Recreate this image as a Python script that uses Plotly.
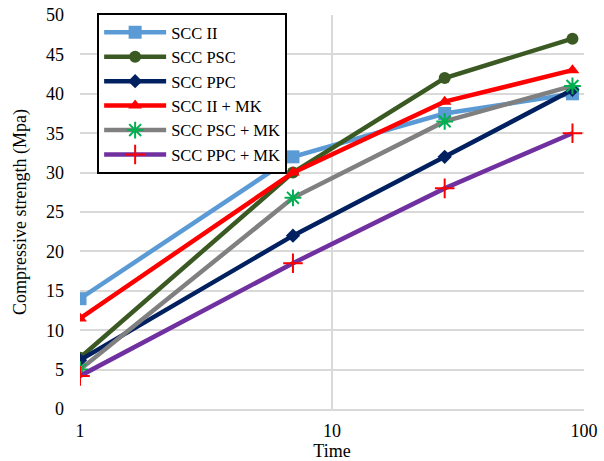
import plotly.graph_objects as go

time = [1, 7, 28, 90]
names = ["SCC II", "SCC PSC", "SCC PPC", "SCC II + MK", "SCC PSC + MK", "SCC PPC + MK"]
scc_ii = [14, 32, 37.5, 40]
scc_psc = [6.5, 30, 42, 47]
scc_ppc = [6.2, 22, 32, 40.5]
scc_ii_mk = [11.5, 30, 39, 43]
scc_psc_mk = [5, 26.8, 36.5, 41]
scc_ppc_mk = [4.2, 18.5, 28, 35]

series = [scc_ii, scc_psc, scc_ppc, scc_ii_mk, scc_psc_mk, scc_ppc_mk]
line_colors = ["#5B9BD5", "#3B5A23", "#002060", "#FF0000", "#808080", "#7030A0"]
marker_colors = ["#5B9BD5", "#3B5A23", "#002060", "#FF0000", "#00B050", "#FF0000"]
symbols = ["square", "circle", "diamond", "triangle-up", "asterisk-open", "cross-thin-open"]
sizes = [13, 12, 11, 12, 14, 14]

fig = go.Figure()
for n, s, lc, mc, sym, sz in zip(names, series, line_colors, marker_colors, symbols, sizes):
    fig.add_trace(go.Scatter(
        x=time, y=s, name=n, mode="lines+markers",
        line=dict(color=lc, width=4.5),
        marker=dict(symbol=sym, color=mc, size=sz,
                    line=dict(color=mc, width=2 if "open" in sym else 0)),
    ))

font = "Liberation Serif, Times New Roman, serif"
fig.update_layout(
    width=604, height=461,
    margin=dict(l=80, r=20, t=15, b=52, autoexpand=False),
    paper_bgcolor="white", plot_bgcolor="white",
    font=dict(family=font, size=18, color="black"),
    legend=dict(x=0.034, y=1.005, xanchor="left", yanchor="top",
                bordercolor="black", borderwidth=2, bgcolor="white",
                font=dict(size=16.5, family=font, color="black"), tracegroupgap=0,
                itemwidth=62),
    xaxis=dict(type="log", range=[0, 2], tickvals=[1, 10, 100],
               ticktext=["1", "10", "100"], automargin=False,
               showgrid=True, gridcolor="#D9D9D9", gridwidth=1.5,
               showline=True, linecolor="#D9D9D9", linewidth=1.5,
               zeroline=False, ticks="", ticklabelstandoff=5,
               tickfont=dict(size=18, color="black"),
               title=dict(text="Time", standoff=0, font=dict(size=18, color="black"))),
    yaxis=dict(range=[0, 50], dtick=5, showgrid=True, gridcolor="#D9D9D9",
               gridwidth=1.5, zeroline=False, showline=False, ticks="",
               automargin=False,
               ticklabelstandoff=15, tickfont=dict(size=18, color="black"),
               title=dict(text="Compressive strength (Mpa)", standoff=14,
                          font=dict(size=18, color="black"))),
)
fig.write_html("out.html", config={"displayModeBar": False},
               post_script="document.body.style.margin='0';")
